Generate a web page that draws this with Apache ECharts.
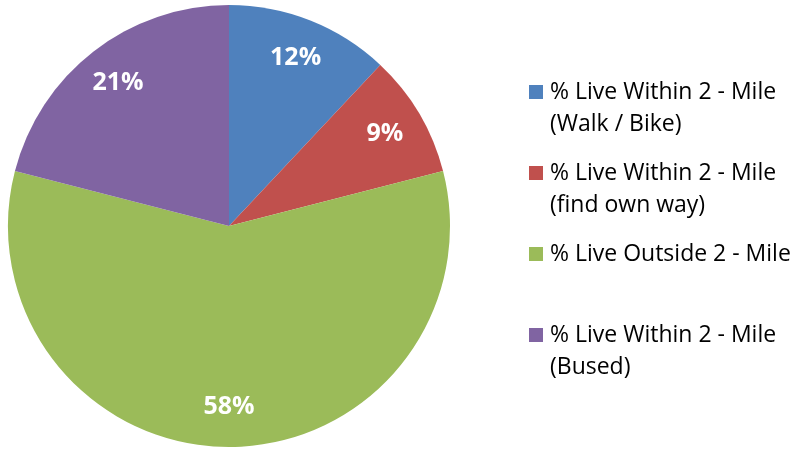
<!DOCTYPE html>
<html><head><meta charset="utf-8">
<script src="https://cdn.jsdelivr.net/npm/echarts@6/dist/echarts.min.js"></script>
<style>html,body{margin:0;padding:0;background:#fff}#c{width:797px;height:449px}</style>
</head><body><div id="c"></div>
<script>
const categories = ['% Live Within 2 - Mile\n(Walk / Bike)', '% Live Within 2 - Mile\n(find own way)', '% Live Outside 2 - Mile', '% Live Within 2 - Mile\n(Bused)'];
const values = [12, 9, 58, 21];
const colors = ['#4F81BD', '#C0504D', '#9BBB59', '#8064A2'];

const data = categories.map((c, i) => ({ name: c, value: values[i] }));
const chart = echarts.init(document.getElementById('c'));
const font = '"Open Sans", sans-serif';
chart.setOption({
  animation: false,
  color: colors,
  legend: {
    orient: 'vertical', left: 529, top: 44, padding: 0,
    itemWidth: 14, itemHeight: 14, itemGap: -15, icon: 'rect',
    data: categories,
    formatter: n => { const l = n.split('\n'); return '\n' + l[0] + '\n' + (l[1] || ' '); },
    textStyle: { fontFamily: font, fontSize: 23, color: '#000', lineHeight: 32, padding: [0, 0, 0, 2] }
  },
  series: [{
    type: 'pie', center: [229, 226], radius: 221, startAngle: 90, clockwise: true,
    data: data, label: { show: false }, labelLine: { show: false },
    itemStyle: { borderWidth: 0 }
  }, {
    type: 'pie', center: [229, 226], radius: [150, 206], startAngle: 90, clockwise: true, silent: true,
    data: data, itemStyle: { color: 'rgba(0,0,0,0)', borderWidth: 0 },
    label: { show: true, position: 'inside', formatter: '{c}%', color: '#fff', fontFamily: font, fontWeight: 'bold', fontSize: 25 },
    labelLine: { show: false }
  }]
});
</script></body></html>
